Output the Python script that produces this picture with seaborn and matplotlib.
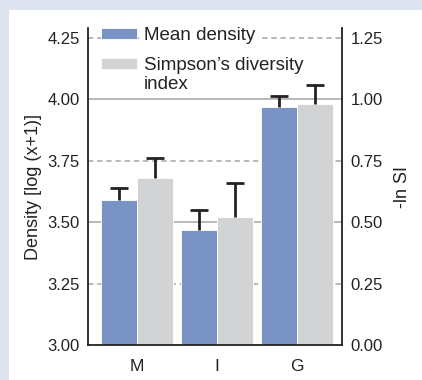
import matplotlib
matplotlib.use("Agg")
import matplotlib.pyplot as plt
import numpy as np
import pandas as pd
import seaborn as sns
from matplotlib.patches import Rectangle

sites = ["M", "I", "G"]
density = [3.59, 3.47, 3.97]
density_err = [0.05, 0.08, 0.045]
simpson = [0.68, 0.52, 0.98]
simpson_err = [0.08, 0.14, 0.08]

blue = "#7a93c5"
grey = "#d2d3d5"
ink = "#222222"

sns.set_style("white")
plt.rcParams["font.family"] = ["Liberation Sans", "DejaVu Sans"]

fig = plt.figure(figsize=(4.22, 3.8), dpi=100)
fig.patch.set_facecolor("#dfe5f0")
fig.patches.append(Rectangle((9 / 422, 0), 1, 370 / 380, transform=fig.transFigure,
                             facecolor="white", edgecolor="none", zorder=-10))

ax = fig.add_axes([88 / 422, 35 / 380, 254 / 422, 317 / 380])
ax.set_facecolor("none")

# Simpson index is drawn on the left scale shifted by 3 (right axis = left - 3)
simpson_shift = [s + 3.0 for s in simpson]
df = pd.DataFrame({
    "site": sites * 2,
    "value": density + simpson_shift,
    "series": ["Mean density"] * 3 + ["Simpson\u2019s diversity"] * 3,
})
sns.barplot(data=df, x="site", y="value", hue="series", palette=[blue, grey],
            width=0.9, ax=ax, errorbar=None, saturation=1,
            edgecolor="white", linewidth=0.6, zorder=2)

# upper-only error bars
x = np.arange(len(sites))
off = 0.225
cap = 0.11
for xs, ys, es in [(x - off, density, density_err), (x + off, simpson_shift, simpson_err)]:
    ys = np.array(ys)
    tops = ys + np.array(es)
    ax.vlines(xs, ys, tops, color=ink, lw=2.0, zorder=3)
    ax.hlines(tops, xs - cap, xs + cap, color=ink, lw=2.0, zorder=3)

for yv, ls in [(4.25, (0, (3.5, 2.5))), (4.0, "-"), (3.75, (0, (3.5, 2.5))),
               (3.5, "-"), (3.25, (0, (3.5, 2.5)))]:
    ax.axhline(yv, color="#a6a6a6", lw=1.1, ls=ls, zorder=1)

ax.set_ylim(3.0, 4.29)
ax.set_xlim(-0.6125, 2.5625)
ax.set_yticks([3.0, 3.25, 3.5, 3.75, 4.0, 4.25])
ax.set_yticklabels(["3.00", "3.25", "3.50", "3.75", "4.00", "4.25"])
ax.set_xlabel("")
ax.set_ylabel("Density [log (x+1)]", fontsize=13, color=ink, labelpad=4)
ax.tick_params(axis="y", length=0, labelsize=12, colors=ink, pad=6)
ax.tick_params(axis="x", length=0, labelsize=12.5, colors=ink, pad=10)

for s in ["left", "bottom", "right"]:
    ax.spines[s].set_color(ink)
    ax.spines[s].set_linewidth(1.3)
ax.spines["top"].set_visible(False)

ax2 = ax.twinx()
ax2.set_ylim(0.0, 1.29)
ax2.set_yticks([0.0, 0.25, 0.5, 0.75, 1.0, 1.25])
ax2.set_yticklabels(["0.00", "0.25", "0.50", "0.75", "1.00", "1.25"])
ax2.set_ylabel("-ln SI", fontsize=13, color=ink, labelpad=8)
ax2.tick_params(axis="y", length=0, labelsize=12, colors=ink, pad=6)
for s in ax2.spines.values():
    s.set_visible(False)

leg = ax.legend(loc="upper left", bbox_to_anchor=(13 / 254, 1.0 + 1 / 317),
                frameon=False, fontsize=13.5, handlelength=1.92,
                handleheight=0.53, handletextpad=0.37, labelspacing=0.72,
                borderpad=0, borderaxespad=0)
leg.set_zorder(5)
for t in leg.get_texts():
    t.set_color(ink)
    t.set_bbox(dict(facecolor="white", edgecolor="none", pad=2))

# second line of the Simpson label, set under its first line
fig.canvas.draw()
bb = leg.get_texts()[1].get_window_extent().transformed(fig.transFigure.inverted())
fig.text(bb.x0, bb.y0 - 0.003, "index", fontsize=13.5, color=ink,
         ha="left", va="top", zorder=6)

fig.savefig("out.png", dpi=100, facecolor=fig.get_facecolor())
